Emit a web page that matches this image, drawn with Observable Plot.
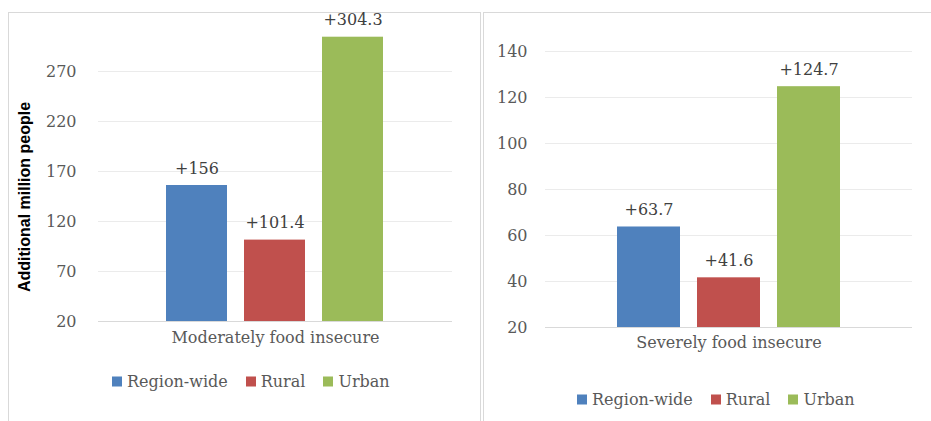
<!DOCTYPE html>
<html><head><meta charset="utf-8">
<script src="https://cdn.jsdelivr.net/npm/d3@7"></script>
<script src="https://cdn.jsdelivr.net/npm/@observablehq/plot@0.6"></script>
<style>
html,body{margin:0;padding:0;background:#fff;}
body{width:931px;height:421px;position:relative;overflow:hidden;font-family:"DejaVu Serif",serif;}
.panel{position:absolute;box-sizing:border-box;border-top:1px solid #d9d9d9;border-left:1px solid #d9d9d9;}
.chart{position:absolute;top:0;}
.legend{position:absolute;display:flex;align-items:center;font-size:16px;color:#595959;white-space:nowrap;transform:translateY(-50%);}
.legend .item{display:flex;align-items:center;margin-right:18px;}
.legend .sw{width:10px;height:10px;margin-right:5px;}
.ylab{position:absolute;font-family:"Liberation Sans",Arial,sans-serif;font-weight:bold;font-size:16px;color:#000;white-space:nowrap;transform:translate(-50%,-50%) rotate(-90deg);}
</style></head>
<body>
<div class="panel" style="left:8px;top:12px;width:473px;height:420px;border-right:1px solid #d9d9d9;"></div>
<div class="panel" style="left:483px;top:12px;width:460px;height:420px;"></div>
<div id="root"></div>
<script>
const series = ["Region-wide", "Rural", "Urban"];
const colors = ["#4F81BD", "#C0504D", "#9BBB59"];
const categories = ["Moderately food insecure", "Severely food insecure"];
const moderateValues = [156, 101.4, 304.3];
const severeValues = [63.7, 41.6, 124.7];
const moderateTicks = [20, 70, 120, 170, 220, 270];
const severeTicks = [20, 40, 60, 80, 100, 120, 140];
const yLabel = "Additional million people";

const H = 421;
function panel(o) {
  const data = series.map((s, i) => ({series: s, value: o.values[i]}));
  const svg = Plot.plot({
    width: o.width, height: H,
    marginLeft: o.marginLeft, marginRight: o.marginRight,
    marginTop: o.marginTop, marginBottom: o.marginBottom,
    style: {fontFamily: "DejaVu Serif", fontSize: "16px", background: "transparent", overflow: "visible"},
    x: {domain: series, range: o.xRange, paddingInner: 0.218, paddingOuter: 0.109, axis: null},
    y: {domain: o.domain, axis: null},
    color: {domain: series, range: colors},
    marks: [
      Plot.gridY(o.ticks, {stroke: "#ebebeb", strokeOpacity: 1}),
      Plot.ruleY([o.domain[0]], {stroke: "#d9d9d9"}),
      Plot.barY(data, {x: "series", y1: o.domain[0], y2: "value", fill: "series"}),
      Plot.axisY(o.ticks, {tickSize: 0, tickPadding: o.tickPadding, fill: "#595959", fontSize: 16, label: null}),
      Plot.text(data, {x: "series", y: "value", text: d => "+" + d.value, dy: -17, fill: "#404040", fontSize: 16}),
      Plot.text([o.category], {frameAnchor: "bottom", dy: o.catDy, fill: "#595959", fontSize: 16})
    ]
  });
  svg.classList.add("chart");
  svg.style.left = o.left + "px";
  return svg;
}

function legend(left, top) {
  const div = document.createElement("div");
  div.className = "legend";
  div.style.left = left + "px";
  div.style.top = top + "px";
  series.forEach((s, i) => {
    const it = document.createElement("div");
    it.className = "item";
    const sw = document.createElement("div");
    sw.className = "sw";
    sw.style.background = colors[i];
    const t = document.createElement("span");
    t.textContent = s;
    it.appendChild(sw); it.appendChild(t);
    div.appendChild(it);
  });
  return div;
}

const root = document.getElementById("root");
root.appendChild(panel({
  values: moderateValues, ticks: moderateTicks, domain: [20, 320], category: categories[0],
  left: 0, width: 480, marginLeft: 98, marginRight: 28, marginTop: 21, marginBottom: 100,
  xRange: [157.5, 391.5], tickPadding: 22, catDy: 21
}));
root.appendChild(panel({
  values: severeValues, ticks: severeTicks, domain: [20, 140], category: categories[1],
  left: 482, width: 449, marginLeft: 63, marginRight: 19, marginTop: 51, marginBottom: 94,
  xRange: [125.1, 367.4], tickPadding: 18, catDy: 20
}));
root.appendChild(legend(112, 381));
root.appendChild(legend(577, 399));
const yl = document.createElement("div");
yl.className = "ylab";
yl.style.left = "25px"; yl.style.top = "197px";
yl.textContent = yLabel;
root.appendChild(yl);
</script>
</body></html>
